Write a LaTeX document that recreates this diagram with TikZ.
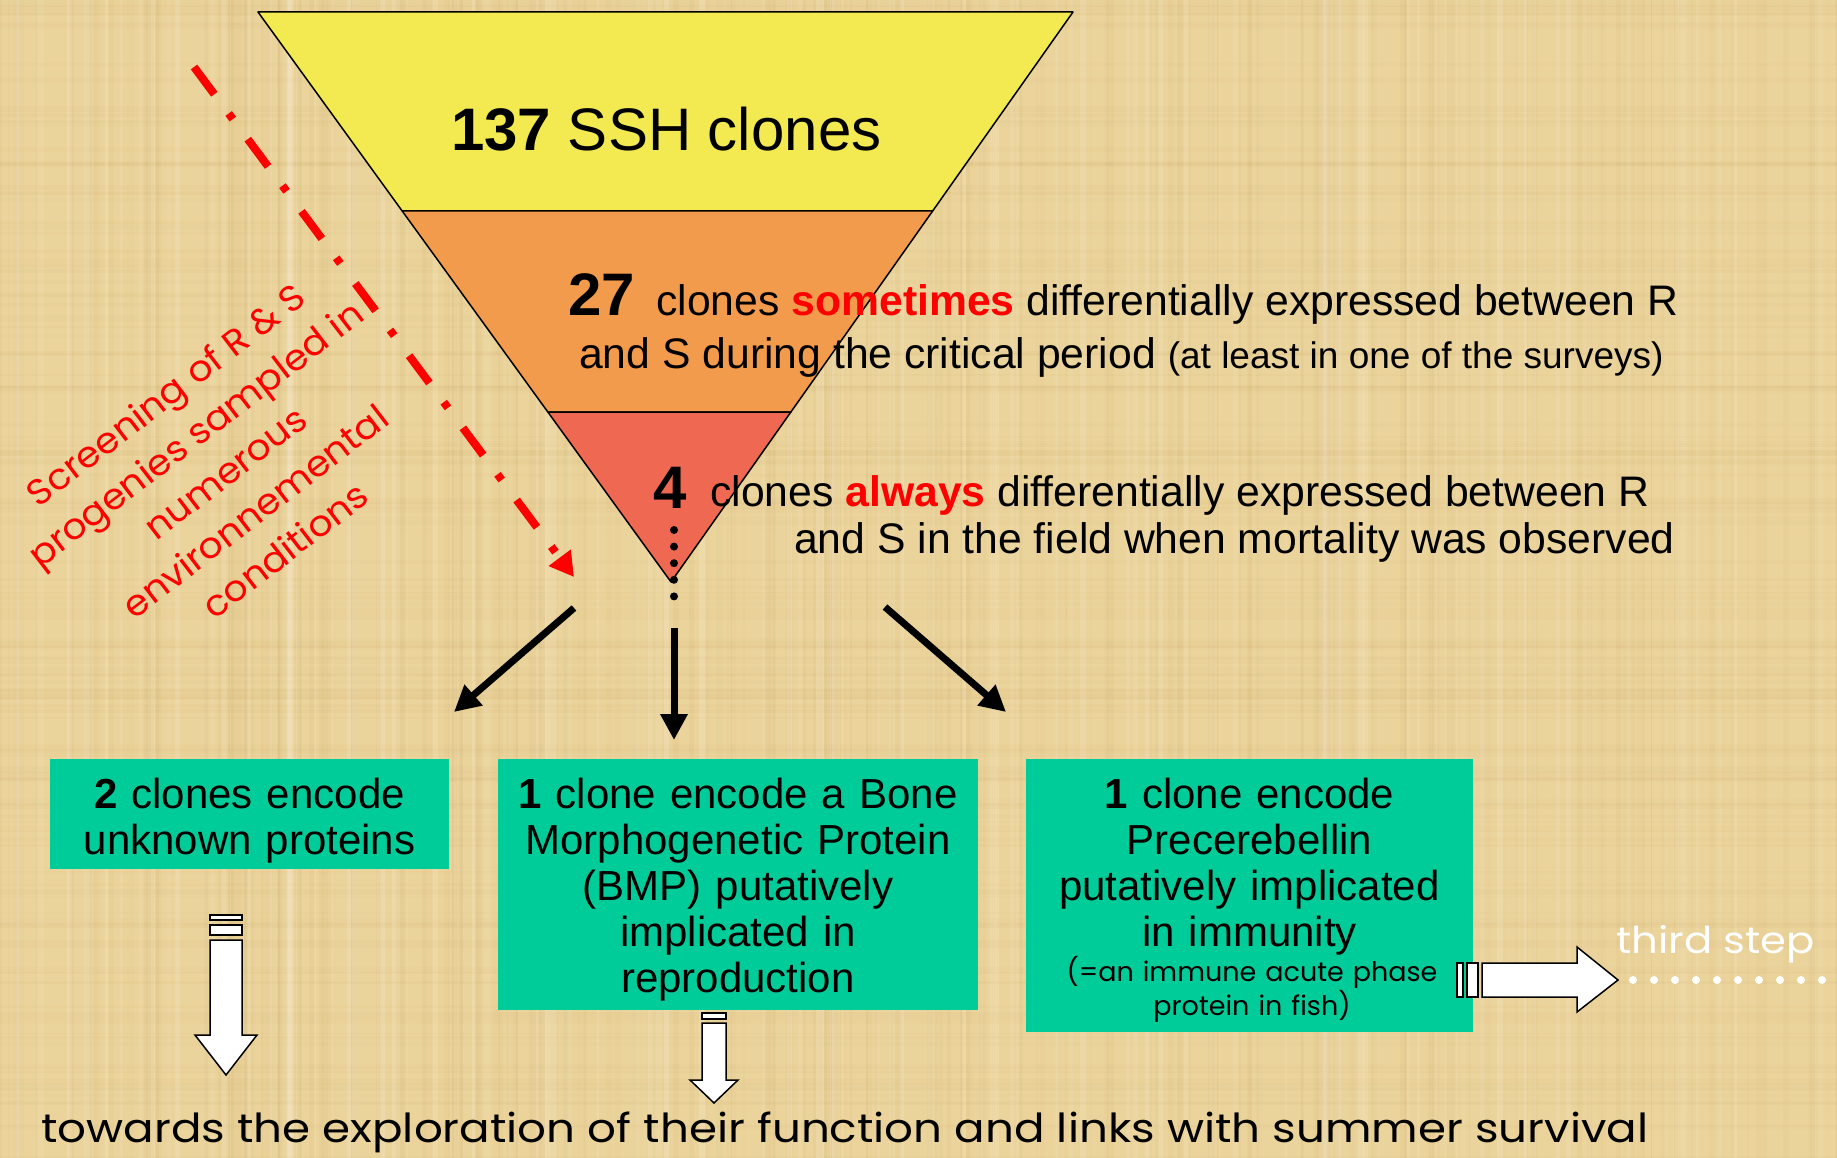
\documentclass[tikz,border=0pt]{standalone}
\usepackage{fontspec}
\setmainfont{Liberation Sans}
\newfontfamily\comic[FakeStretch=1.13]{Poppins}
\newfontfamily\comicm[FakeStretch=1.05]{Poppins}
\newfontfamily\comicn{Poppins}
\usetikzlibrary{arrows.meta,calc}
\definecolor{parch}{RGB}{235,212,156}
\definecolor{streak}{RGB}{190,150,80}
\definecolor{fyellow}{RGB}{242,234,80}
\definecolor{forange}{RGB}{243,155,76}
\definecolor{fred}{RGB}{239,105,82}
\definecolor{boxgreen}{RGB}{0,204,153}
\newcommand\fs[2]{\fontsize{#1}{#2}\selectfont}
\begin{document}
\begin{tikzpicture}[x=1pt,y=-1pt,
  layer/.style={draw=black,line width=1.5pt,line join=round},
  greenbox/.style={fill=boxgreen,draw=none,inner sep=0pt},
  boxtext/.style={anchor=base,align=center,inner sep=0pt,font=\fs{42}{46}},
  funtext/.style={anchor=base west,inner sep=0pt,font=\fs{42.7}{46}},
  bignum/.style={anchor=base west,inner sep=0pt,font=\fs{60}{70}\bfseries},
  blackarrow/.style={line width=7pt,-{Triangle[length=26pt,width=26pt]}},
  whitearrow/.style={fill=white,draw=black,line width=1.5pt,line join=miter}
]
\useasboundingbox (0,0) rectangle (1837,1158);
\fill[parch] (0,0) rectangle (1837,1158);
% parchment texture
\pgfmathsetseed{7}
\foreach \i in {1,...,220} {
  \pgfmathsetmacro\xx{rnd*1837}
  \pgfmathsetmacro\ww{1+rnd*6}
  \pgfmathsetmacro\oo{0.02+rnd*0.06}
  \fill[streak,opacity=\oo] (\xx,0) rectangle ++(\ww,1158);
}
\foreach \i in {1,...,140} {
  \pgfmathsetmacro\yy{rnd*1158}
  \pgfmathsetmacro\ww{1+rnd*6}
  \pgfmathsetmacro\oo{0.02+rnd*0.04}
  \fill[streak,opacity=\oo] (0,\yy) rectangle ++(1837,\ww);
}
\foreach \i in {1,...,120} {
  \pgfmathsetmacro\xx{rnd*1837}
  \pgfmathsetmacro\ww{1+rnd*5}
  \pgfmathsetmacro\oo{0.04+rnd*0.10}
  \fill[white,opacity=\oo] (\xx,0) rectangle ++(\ww,1158);
}

% funnel
\coordinate (tl) at (258,12);
\coordinate (tr) at (1073,12);
\coordinate (apex) at (671,582);
\coordinate (l1) at ($(tl)!0.349!(apex)$);
\coordinate (r1) at ($(tr)!0.349!(apex)$);
\coordinate (l2) at ($(tl)!0.7018!(apex)$);
\coordinate (r2) at ($(tr)!0.7018!(apex)$);
\filldraw[layer,fill=fyellow] (tl) -- (tr) -- (r1) -- (l1) -- cycle;
\filldraw[layer,fill=forange] (l1) -- (r1) -- (r2) -- (l2) -- cycle;
\filldraw[layer,fill=fred] (l2) -- (r2) -- (apex) -- cycle;

% funnel texts
\node[anchor=base west,inner sep=0pt,font=\fs{60}{70}] (t137) at (451,151) {\textbf{137} SSH clones};
\node[bignum] (n27) at (568,316) {27};
\node[funtext] (t27a) at (656,316) {clones \textcolor{red}{\textbf{sometimes}} differentially expressed between R};
\node[funtext] (t27b) at (579,368) {and S during the critical period {\fs{37}{40}(at least in one of the surveys)}};
\node[bignum] (n4) at (653,508) {4};
\node[funtext] (t4a) at (710,506) {clones \textcolor{red}{\textbf{always}} differentially expressed between R};
\node[funtext] (t4b) at (794,553) {and S in the field when mortality was observed};

% red screening text and arrow
\node[rotate=37.5,align=center,text=red,inner sep=0pt,font=\comicm\fs{36}{49}] (screen) at (225,472)
  {Screening of R \& S\\progenies sampled in\\numerous\\environnemental\\conditions};
\coordinate (rs) at (194,67);
\coordinate (re) at (574,577);
\draw[red,line width=8pt,dash pattern=on 34pt off 24pt on 7pt off 25pt,
  -{Triangle[length=24pt,width=26pt]}] (rs) -- (re);

% dots and black arrows
\coordinate (dtop) at (674,530);
\coordinate (dbot) at (674,613);
\draw[line width=8pt,line cap=round,dash pattern=on 0pt off 16.6pt] (dtop) -- (dbot);
\coordinate (ls) at (574,608); \coordinate (le) at (454,712);
\coordinate (ms) at (674,628); \coordinate (me) at (674,740);
\coordinate (rrs) at (885,607); \coordinate (rre) at (1006,712);
\draw[blackarrow] (ls) -- (le);
\draw[blackarrow] (ms) -- (me);
\draw[blackarrow] (rrs) -- (rre);

% green boxes
\node[greenbox,minimum width=399pt,minimum height=110pt] (box1) at (249.5,814) {};
\node[greenbox,minimum width=480pt,minimum height=251pt] (box2) at (738,884.5) {};
\node[greenbox,minimum width=447pt,minimum height=273pt] (box3) at (1249.5,895.5) {};
\node[boxtext,text width=390pt] (bt1) at (249.5,808) {\textbf{2} clones encode\\unknown proteins};
\node[boxtext,text width=470pt] (bt2) at (738,808) {\textbf{1} clone encode a Bone\\Morphogenetic Protein\\(BMP) putatively\\implicated in\\reproduction};
\node[boxtext,text width=440pt] (bt3) at (1249.5,808) {\textbf{1} clone encode\\Precerebellin\\putatively implicated\\in immunity};
\node[anchor=base,align=center,inner sep=0pt,text width=440pt,font=\comicn\fs{27}{34}] (bt3b) at (1252,981) {(=an immune acute phase\\protein in fish)};

% white block arrows
\filldraw[whitearrow] (210,915) rectangle (242,920);
\filldraw[whitearrow] (210,925) rectangle (242,935);
\filldraw[whitearrow] (210,940) -- (242,940) -- (242,1035) -- (257,1035) -- (226,1075) -- (195,1035) -- (210,1035) -- cycle;
\filldraw[whitearrow] (702,1013) rectangle (726,1019);
\filldraw[whitearrow] (702,1023) -- (726,1023) -- (726,1080) -- (738,1080) -- (714,1103) -- (690,1080) -- (702,1080) -- cycle;
\filldraw[whitearrow] (1457,963) rectangle (1463,997);
\filldraw[whitearrow] (1467,963) rectangle (1478,997);
\filldraw[whitearrow] (1482,963) -- (1577,963) -- (1577,947) -- (1618,980) -- (1577,1012) -- (1577,997) -- (1482,997) -- cycle;

% third step
\node[anchor=base west,inner sep=0pt,text=white,font=\comic\fs{37}{40}] (third) at (1616,953) {third step};
\coordinate (ws) at (1633,980);
\coordinate (we) at (1830,980);
\draw[white,line width=8pt,line cap=round,dash pattern=on 0pt off 21pt] (ws) -- (we);

% bottom text
\node[anchor=base west,inner sep=0pt,font=\comic\fs{40}{48}] (bottom) at (41,1142) {towards the exploration of their function and links with summer survival};
\end{tikzpicture}
\end{document}
